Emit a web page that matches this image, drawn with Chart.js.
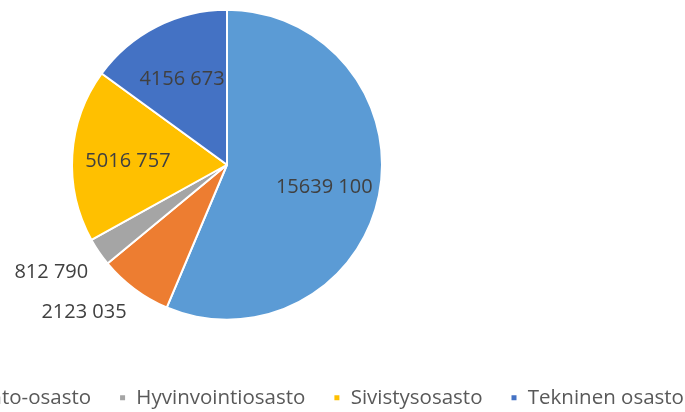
<!DOCTYPE html>
<html>
<head>
<meta charset="utf-8">
<script src="https://cdn.jsdelivr.net/npm/chart.js@4.4.0/dist/chart.umd.min.js"></script>
<style>
  html, body { margin: 0; padding: 0; background: #fff; overflow: hidden; width: 685px; height: 412px; }
  #wrap { position: absolute; left: -273px; top: 0; width: 1000px; height: 418px; }
</style>
</head>
<body>
<div id="wrap"><canvas id="c" width="1000" height="418"></canvas></div>
<script>
// Osastojen määrärahat
const osastot = ['Yleishallinto', 'Hallinto-osasto', 'Hyvinvointiosasto', 'Sivistysosasto', 'Tekninen osasto'];
const summat = [15639100, 2123035, 812790, 5016757, 4156673];
const varit = ['#5B9BD5', '#ED7D31', '#A5A5A5', '#FFC000', '#4472C4'];

const FONT = "'Open Sans', sans-serif";

// "15639 100" -> vain viimeinen tuhaterotin, kuten Excelin muotoilu
function muotoile(v) {
  const s = String(v);
  return s.length > 3 ? s.slice(0, -3) + ' ' + s.slice(-3) : s;
}

const arvoLabelit = {
  id: 'arvoLabelit',
  afterDatasetsDraw(chart) {
    const ctx = chart.ctx;
    const meta = chart.getDatasetMeta(0);
    ctx.save();
    ctx.font = '20px ' + FONT;
    ctx.fillStyle = '#404040';
    meta.data.forEach((arc, i) => {
      const p = arc.getProps(['x', 'y', 'startAngle', 'endAngle', 'outerRadius'], true);
      const mid = (p.startAngle + p.endAngle) / 2;
      const teksti = muotoile(summat[i]);
      if (p.endAngle - p.startAngle > Math.PI / 6) {
        const r = p.outerRadius * 0.64;
        ctx.textAlign = 'center';
        ctx.textBaseline = 'middle';
        ctx.fillText(teksti, p.x + Math.cos(mid) * r, p.y + Math.sin(mid) * r + 3);
      } else {
        const r = p.outerRadius + 13;
        ctx.textAlign = Math.cos(mid) < 0 ? 'right' : 'left';
        ctx.textBaseline = Math.sin(mid) > 0 ? 'top' : 'bottom';
        ctx.fillText(teksti, p.x + Math.cos(mid) * r, p.y + Math.sin(mid) * r + 3);
      }
    });
    ctx.restore();
  }
};

new Chart(document.getElementById('c'), {
  type: 'pie',
  data: {
    labels: osastot,
    datasets: [{
      data: summat,
      backgroundColor: varit,
      borderColor: '#ffffff',
      borderWidth: 2,
      radius: 155
    }]
  },
  options: {
    responsive: false,
    animation: false,
    layout: { padding: 0 },
    plugins: {
      tooltip: { enabled: false },
      legend: {
        position: 'bottom',
        align: 'center',
        title: { display: true, text: '', font: { size: 10 }, padding: { top: 18, bottom: 0 } },
        labels: {
          boxWidth: 7,
          boxHeight: 7,
          padding: 28,
          color: '#595959',
          font: { family: FONT, size: 20.5 }
        }
      }
    }
  },
  plugins: [arvoLabelit]
});
</script>
</body>
</html>
